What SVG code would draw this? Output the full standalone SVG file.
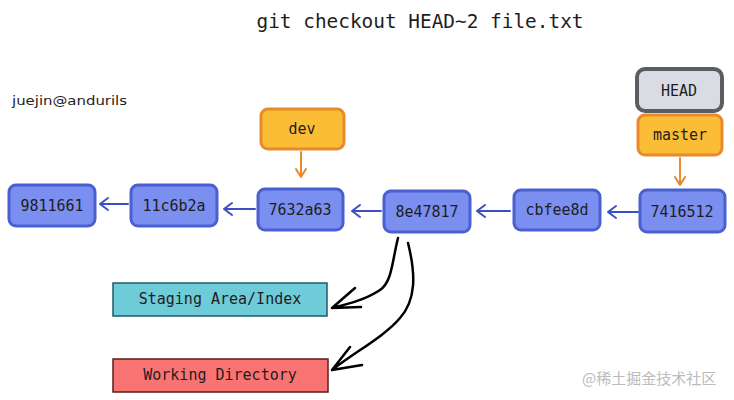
<svg xmlns="http://www.w3.org/2000/svg" width="734" height="400" viewBox="0 0 734 400">
<defs>
<style>
.commit rect{fill:#7b8ff0;stroke:#4a5fd0;stroke-width:3}
.branch rect{fill:#fbbd35;stroke:#e8892a;stroke-width:3}
.head rect{fill:#d9dde3;stroke:#5a5d62;stroke-width:4}
text{font-family:"DejaVu Sans Mono","Liberation Mono",monospace;fill:#1e1e1e}
.lbl{font-size:15px;text-anchor:middle}
.blue{stroke:#3c4fc4;stroke-width:2;fill:none;stroke-linecap:round;stroke-linejoin:round}
.orange{stroke:#e8892a;stroke-width:2;fill:none;stroke-linecap:round;stroke-linejoin:round}
.black{stroke:#000;stroke-width:2.5;fill:none;stroke-linecap:round;stroke-linejoin:round}
</style>
</defs>
<rect width="734" height="400" fill="#fff"/>
<text x="420" y="28" font-size="19" text-anchor="middle" textLength="327" lengthAdjust="spacingAndGlyphs" fill="#333">git checkout HEAD~2 file.txt</text>
<text x="12" y="105" font-size="13" style="font-family:'Comic Sans MS','DejaVu Sans',sans-serif" textLength="115" lengthAdjust="spacingAndGlyphs">juejin@andurils</text>

<g id="c9811661" class="commit"><rect x="9" y="185" width="86" height="41" rx="7"/><text class="lbl" x="52" y="211">9811661</text></g>
<g id="c11c6b2a" class="commit"><rect x="131" y="185" width="86" height="41" rx="7"/><text class="lbl" x="174" y="211">11c6b2a</text></g>
<g id="c7632a63" class="commit"><rect x="258" y="189" width="85" height="41" rx="7"/><text class="lbl" x="300" y="215">7632a63</text></g>
<g id="c8e47817" class="commit"><rect x="384" y="191" width="86" height="41" rx="7"/><text class="lbl" x="427" y="217">8e47817</text></g>
<g id="ccbfee8d" class="commit"><rect x="514" y="190" width="86" height="40" rx="7"/><text class="lbl" x="557" y="215">cbfee8d</text></g>
<g id="c7416512" class="commit"><rect x="640" y="190" width="85" height="42" rx="7"/><text class="lbl" x="682" y="217">7416512</text></g>

<g id="dev" class="branch"><rect x="261" y="109" width="83" height="40" rx="7"/><text class="lbl" x="302" y="134">dev</text></g>
<g id="master" class="branch"><rect x="638" y="115" width="84" height="40" rx="7"/><text class="lbl" x="680" y="140">master</text></g>
<g id="HEAD" class="head"><rect x="637" y="69" width="85" height="42" rx="8"/><text class="lbl" x="679" y="96">HEAD</text></g>

<g id="staging"><rect x="113" y="283" width="214" height="33" fill="#6ecbd8" stroke="#1f5a63" stroke-width="1.5"/><text class="lbl" x="220" y="304">Staging Area/Index</text></g>
<g id="working"><rect x="113" y="359" width="215" height="33" fill="#fa7373" stroke="#5a1e1e" stroke-width="1.5"/><text class="lbl" x="220" y="380">Working Directory</text></g>

<g id="connectors">
<path class="blue" d="M128 204 L100 204 M108 198 L100 204 L108 210"/>
<path class="blue" d="M255 209 L224 209 M232 203 L224 209 L232 215"/>
<path class="blue" d="M381 211 L352 211 M360 205 L352 211 L360 217"/>
<path class="blue" d="M510 211 L477 211 M485 205 L477 211 L485 217"/>
<path class="blue" d="M638 212 L608 212 M616 206 L608 212 L616 218"/>
<path class="orange" d="M301 152 L301 177 M296 169 L301 177 L306 169"/>
<path class="orange" d="M680 158 L680 185 M675 177 L680 185 L685 177"/>
<path class="black" d="M398 238 C392 262 392 282 380 290 C365 300 348 304 332 308 M355 288 L332 308 L361 307"/>
<path class="black" d="M408 243 C416 275 416 300 400 318 C385 336 355 352 332 370 M350 347 L332 370 L362 365"/>
</g>
<text x="582" y="384" font-size="15" fill="#bbbbbb" style="font-family:'Noto Sans CJK SC',sans-serif;fill:#bbbbbb">@稀土掘金技术社区</text>
</svg>
